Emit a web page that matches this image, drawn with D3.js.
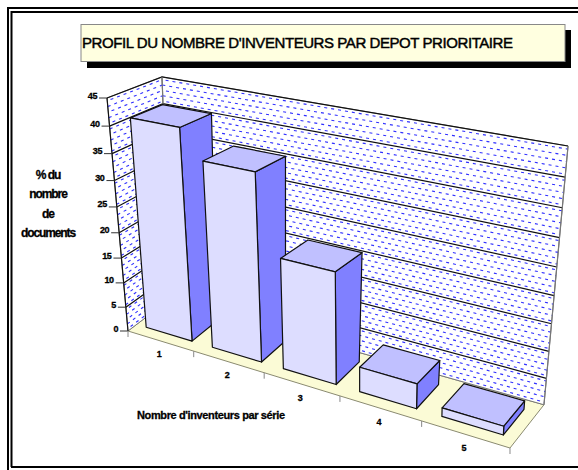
<!DOCTYPE html>
<html>
<head>
<meta charset="utf-8">
<script src="https://cdnjs.cloudflare.com/ajax/libs/d3/7.8.5/d3.min.js"></script>
<style>
html, body { margin: 0; padding: 0; background: #fff; }
svg { display: block; }
text { font-family: "Liberation Sans", Arial, sans-serif; fill: #000; }
</style>
</head>
<body>
<div id="chart"></div>
<script>
var categories = ["1", "2", "3", "4", "5"];
var values = [41, 35.8, 21.2, 4.7, 1.6];
var valueTicks = [0, 5, 10, 15, 20, 25, 30, 35, 40, 45];
var titleText = "PROFIL DU NOMBRE D'INVENTEURS PAR DEPOT PRIORITAIRE";
var yTitleLines = ["% du", "nombre", "de", "documents"];
var xTitle = "Nombre d'inventeurs par série";

var width = 578,
    height = 470;

var svg = d3.select("#chart").append("svg")
    .attr("width", width)
    .attr("height", height);

// scales work in the unit cube, project() takes that to the screen
var uScale = d3.scaleBand().domain(categories).range([0, 1]).paddingInner(0.3).paddingOuter(0.15);
var wScale = d3.scaleLinear().domain([0, 45]).range([0, 1]);
var depthFront = 0.2,
    depthBack = 0.8;

function project(u, v, value) {
  var d = 1 - 0.169 * u + 0.0369 * v;
  var x0 = (295.8 * u + 48.3 * v + 128) / d,
      y0 = (41.3 * u - 21 * v + 331) / d,
      x1 = (325 * u + 61 * v + 107) / d,
      y1 = (46.9 * u - 18.2 * v + 98) / d;
  var t = wScale(value);
  var s = t * 0.911 / (1 - 0.089 * t);
  return [x0 + (x1 - x0) * s, y0 + (y1 - y0) * s];
}

function poly(points) {
  return d3.line()(points.map(function (p) { return project(p[0], p[1], p[2]); })) + "Z";
}

// frame
var frame = svg.append("g").attr("fill", "none").attr("stroke", "#000");
frame.append("path").attr("d", "M8,470V8H578").attr("stroke-width", 2);
frame.append("path").attr("d", "M11.5,467V12H578").attr("stroke-width", 2);
frame.append("path").attr("d", "M11,467H578").attr("stroke-width", 2);

// title box
svg.append("rect").attr("x", 87).attr("y", 30).attr("width", 484).attr("height", 38).attr("fill", "#000");
svg.append("rect").attr("x", 81).attr("y", 24.5).attr("width", 484).attr("height", 37)
    .attr("fill", "#ffffe0").attr("stroke", "#888");
svg.append("text").attr("x", 82).attr("y", 47.5)
    .attr("font-size", 15)
    .attr("textLength", 431).attr("lengthAdjust", "spacing")
    .attr("stroke", "#000").attr("stroke-width", 0.45)
    .text(titleText);

// floor and walls
var yMax = valueTicks[valueTicks.length - 1];
svg.append("path").attr("d", poly([[0, 0, 0], [1, 0, 0], [1, 1, 0], [0, 1, 0]]))
    .attr("fill", "#fbfbd6").attr("stroke", "#8a8a70");
svg.append("path").attr("d", poly([[0, 0, 0], [0, 1, 0], [0, 1, yMax], [0, 0, yMax]]))
    .attr("fill", "#fff").attr("stroke", "#777");
svg.append("path").attr("d", poly([[0, 1, 0], [1, 1, 0], [1, 1, yMax], [0, 1, yMax]]))
    .attr("fill", "#fff").attr("stroke", "#777");

// blue dashed fill of the walls
var hatch = svg.append("g").attr("fill", "none").attr("stroke", "#3030ff")
    .attr("stroke-width", 1.1);
d3.range(0.5, yMax, 1).forEach(function (w, i) {
  hatch.append("path").attr("d", d3.line()([project(0, 0, w), project(0, 1, w)]))
      .attr("stroke-dasharray", "3 4").attr("stroke-dashoffset", i % 2 ? 0 : 3.5);
  hatch.append("path").attr("d", d3.line()([project(0, 1, w), project(1, 1, w)]))
      .attr("stroke-dasharray", "3 4").attr("stroke-dashoffset", i % 2 ? 0 : 3.5);
});

// gridlines
var grid = svg.append("g").attr("fill", "none").attr("stroke", "#111").attr("stroke-width", 1.2);
valueTicks.slice(1).forEach(function (w) {
  grid.append("path").attr("d", d3.line()([project(0, 0, w), project(0, 1, w), project(1, 1, w)]));
});
grid.append("path").attr("d", d3.line()([project(0, 0, 0), project(0, 0, yMax)]));
grid.append("path").attr("stroke", "#777").attr("d", d3.line()([project(1, 1, 0), project(1, 1, yMax)]));
grid.append("path").attr("stroke", "#777").attr("d", d3.line()([project(0, 1, 0), project(0, 1, yMax)]));

// value axis
var yAxis = svg.append("g");
yAxis.selectAll("path").data(valueTicks).enter().append("path")
    .attr("stroke", "#333")
    .attr("d", function (d) {
      var p = project(0, 0, d);
      return d3.line()([[p[0] - 8, p[1]], p]);
    });
yAxis.selectAll("text").data(valueTicks).enter().append("text")
    .attr("x", function (d) { return project(0, 0, d)[0] - 10; })
    .attr("y", function (d) { return project(0, 0, d)[1] + 0.5; })
    .attr("text-anchor", "end")
    .attr("font-size", 9).attr("font-weight", "bold")
    .attr("letter-spacing", -0.4)
    .attr("stroke", "#000").attr("stroke-width", 0.3)
    .text(function (d) { return d; });

// category axis
var xAxis = svg.append("g");
d3.range(0, categories.length + 1).forEach(function (i) {
  var p = project(i / categories.length, 0, 0);
  xAxis.append("path").attr("stroke", "#888").attr("d", d3.line()([p, [p[0], p[1] + 6]]));
});
xAxis.selectAll("text").data(categories).enter().append("text")
    .attr("x", function (d) { return project(uScale(d) + uScale.bandwidth() / 2, 0, 0)[0] - 1; })
    .attr("y", function (d) { return project(uScale(d) + uScale.bandwidth() / 2, 0, 0)[1] + 16.5; })
    .attr("text-anchor", "middle")
    .attr("font-size", 9).attr("font-weight", "bold")
    .attr("stroke", "#000").attr("stroke-width", 0.3)
    .text(function (d) { return d; });

// bars, left to right so the later ones cover the earlier ones
var bars = svg.selectAll("g.bar")
    .data(categories.map(function (c, i) { return { cat: c, value: values[i] }; }))
    .enter().append("g")
    .attr("class", "bar")
    .attr("stroke", "#111")
    .attr("stroke-width", 1.2)
    .attr("stroke-linejoin", "round");

bars.append("path").attr("fill", "#8080ff").attr("d", function (d) {
  var r = uScale(d.cat) + uScale.bandwidth();
  return poly([[r, depthFront, 0], [r, depthBack, 0], [r, depthBack, d.value], [r, depthFront, d.value]]);
});
bars.append("path").attr("fill", "#c0c0ff").attr("d", function (d) {
  var l = uScale(d.cat), r = l + uScale.bandwidth();
  return poly([[l, depthFront, d.value], [r, depthFront, d.value], [r, depthBack, d.value], [l, depthBack, d.value]]);
});
bars.append("path").attr("fill", "#ddddff").attr("d", function (d) {
  var l = uScale(d.cat), r = l + uScale.bandwidth();
  return poly([[l, depthFront, 0], [r, depthFront, 0], [r, depthFront, d.value], [l, depthFront, d.value]]);
});

// axis titles
svg.append("g").selectAll("text").data(yTitleLines).enter().append("text")
    .attr("x", 48)
    .attr("y", function (d, i) { return 179 + i * 19.3; })
    .attr("text-anchor", "middle")
    .attr("font-size", 12).attr("font-weight", "bold")
    .attr("letter-spacing", -1.1)
    .attr("stroke", "#000").attr("stroke-width", 0.3)
    .text(function (d) { return d; });

svg.append("text").attr("x", 137).attr("y", 419)
    .attr("font-size", 11).attr("font-weight", "bold")
    .attr("textLength", 148).attr("lengthAdjust", "spacing")
    .attr("stroke", "#000").attr("stroke-width", 0.3)
    .text(xTitle);
</script>
</body>
</html>
